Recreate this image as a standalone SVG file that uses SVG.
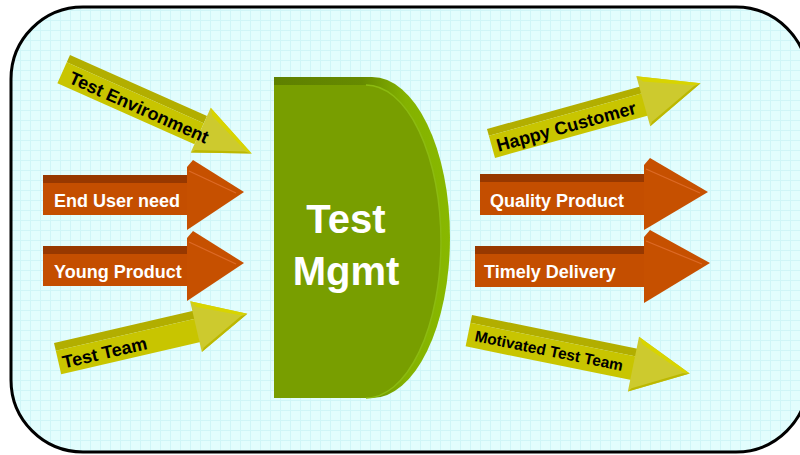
<svg xmlns="http://www.w3.org/2000/svg" width="800" height="455" viewBox="0 0 800 455">
<defs>
<pattern id="grid" width="10" height="10" patternUnits="userSpaceOnUse">
<rect width="10" height="10" fill="#e2fdfd"/>
<path d="M0 0.5H10M0.5 0V10" stroke="#cff5f7" stroke-width="1"/>
</pattern>
<linearGradient id="dside" x1="274" y1="0" x2="450" y2="0" gradientUnits="userSpaceOnUse">
<stop offset="0" stop-color="#5e8000"/>
<stop offset="0.5" stop-color="#668a00"/>
<stop offset="0.75" stop-color="#84b200"/>
<stop offset="1" stop-color="#88b800"/>
</linearGradient>
<style>
.yt{fill:#b2ae00}
.yf{fill:#c8c500}
.yh{fill:#cdca2e}
.ye{fill:#d8d400}
.yb{fill:#bcb800}
.ot{fill:#973800}
.of{fill:#c44e00}
.oh{fill:#c65000}
.ol{stroke:#dc6a26;stroke-width:1.2;fill:none}
.bt{font-family:"Liberation Sans",Arial,sans-serif;font-weight:bold;font-size:18px;fill:#000}
.wt{font-family:"Liberation Sans",Arial,sans-serif;font-weight:bold;font-size:18px;fill:#fff}
.big{font-family:"Liberation Sans",Arial,sans-serif;font-weight:bold;font-size:40px;fill:#fff;text-anchor:middle}
</style>
</defs>
<rect width="800" height="455" fill="#ffffff"/>
<rect x="11" y="7" width="797" height="445" rx="72" ry="72" fill="url(#grid)" stroke="#000" stroke-width="3"/>

<g id="connectors">
<g id="test-environment" transform="translate(70,55) rotate(24)">
<rect class="yt" x="0" y="0" width="150" height="8"/>
<rect class="yf" x="0" y="8" width="150" height="23"/>
<polygon class="yh" points="150,-9 206,16 150,40"/>
<polygon class="ye" points="150,-9 206,16 199,16 155,-2"/>
<polygon class="yb" points="150,40 206,16 199,17 153,36"/>
<text class="bt" x="9" y="26">Test Environment</text>
</g>
<g id="end-user-need">
<rect class="ot" x="43" y="175" width="146" height="8"/>
<rect class="of" x="43" y="183" width="146" height="32"/>
<polygon class="oh" points="187,167 193,160 244,192 187,230"/>
<path class="ol" d="M189,171 L236,193"/>
<text class="wt" x="54" y="207">End User need</text>
</g>
<g id="young-product">
<rect class="ot" x="43" y="246" width="146" height="8"/>
<rect class="of" x="43" y="254" width="146" height="32"/>
<polygon class="oh" points="187,238 193,231 244,263 187,301"/>
<path class="ol" d="M189,242 L236,264"/>
<text class="wt" x="54" y="278">Young Product</text>
</g>
<g id="test-team" transform="translate(54,343) rotate(-13)">
<rect class="yt" x="0" y="0" width="143" height="8"/>
<rect class="yf" x="0" y="8" width="143" height="24"/>
<polygon class="yh" points="142,-10 195,15 142,42"/>
<polygon class="ye" points="142,-10 195,15 188,15 147,-3"/>
<polygon class="yb" points="142,42 195,15 188,16 145,38"/>
<text class="bt" x="4" y="27">Test Team</text>
</g>
<g id="happy-customer" transform="translate(487,129) rotate(-15.5)">
<rect class="yt" x="0" y="0" width="159" height="7"/>
<rect class="yf" x="0" y="7" width="159" height="23"/>
<polygon class="yh" points="158,-11 218,13 158,41"/>
<polygon class="ye" points="158,-11 218,13 211,13 163,-4"/>
<polygon class="yb" points="158,41 218,13 211,14 161,37"/>
<text class="bt" x="5" y="25">Happy Customer</text>
</g>
<g id="quality-product">
<rect class="ot" x="480" y="174" width="165" height="8"/>
<rect class="of" x="480" y="182" width="165" height="33"/>
<polygon class="oh" points="644,165 650,158 708,192 644,230"/>
<path class="ol" d="M646,169 L700,193"/>
<text class="wt" x="490" y="207">Quality Product</text>
</g>
<g id="timely-delivery">
<rect class="ot" x="475" y="246" width="170" height="8"/>
<rect class="of" x="475" y="254" width="170" height="33"/>
<polygon class="oh" points="644,237 650,230 710,263 644,303"/>
<path class="ol" d="M646,241 L702,264"/>
<text class="wt" x="484" y="278">Timely Delivery</text>
</g>
<g id="motivated-test-team" transform="translate(472,315) rotate(11.5)">
<rect class="yt" x="0" y="0" width="169" height="8"/>
<rect class="yf" x="0" y="8" width="169" height="24"/>
<polygon class="yh" points="168,-12 225,14 168,44"/>
<polygon class="ye" points="168,-12 225,14 218,14 173,-5"/>
<polygon class="yb" points="168,44 225,14 218,15 171,40"/>
<text class="bt" x="7" y="25" style="font-size:15.5px">Motivated Test Team</text>
</g>
</g>

<g id="test-mgmt">
<path d="M274,77 H372 A78,160.5 0 0 1 372,398 H274 Z" fill="url(#dside)"/>
<path d="M274,85 H366 A75,156.5 0 0 1 366,398 H274 Z" fill="#789e00"/>
<path d="M366,85 A75,156.5 0 0 1 366,398" fill="none" stroke="#8cbb10" stroke-width="1.5"/>
<text class="big" x="346" y="233">Test</text>
<text class="big" x="346" y="285">Mgmt</text>
</g>
</svg>
